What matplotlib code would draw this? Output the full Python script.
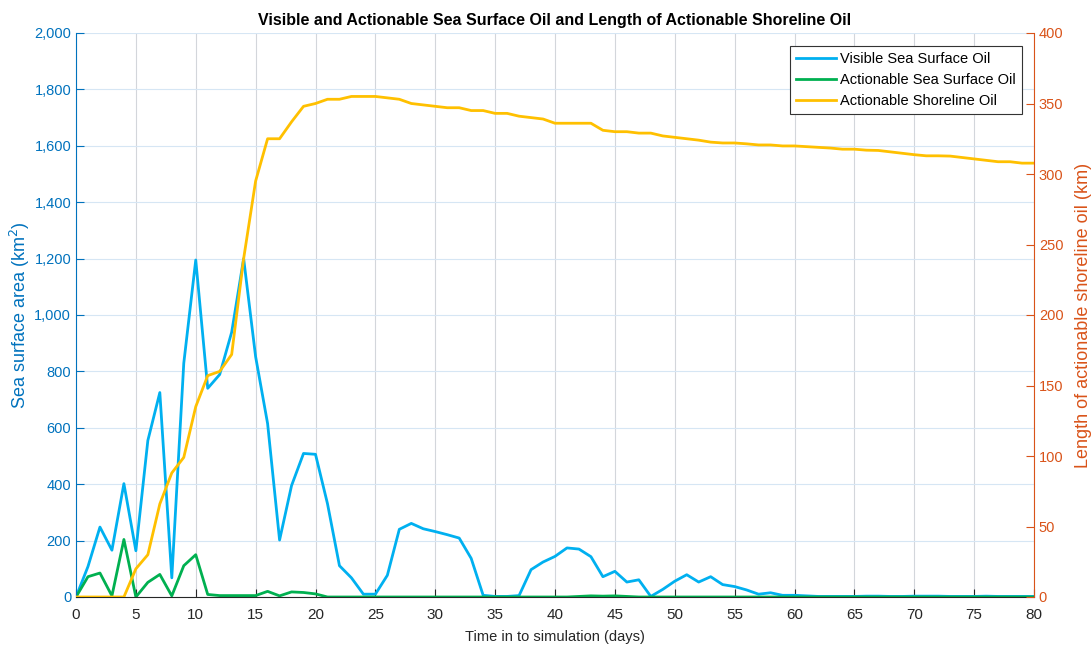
import matplotlib.pyplot as plt
from matplotlib.ticker import FuncFormatter, MultipleLocator

# Data (one value per day, day 0..80)
days = list(range(81))
visible_sea = [0, 108, 248, 166, 402, 164, 555, 725, 68, 829,
               1195, 740, 789, 939, 1200, 852, 615, 202, 395, 509,
               506, 331, 111, 68, 10, 10, 77, 240, 261, 242,
               232, 221, 209, 137, 6, 2, 2, 5, 97, 124,
               144, 174, 170, 143, 72, 91, 53, 61, 2, 27,
               56, 79, 53, 72, 44, 37, 25, 10, 15, 6,
               6, 4, 2, 2, 2, 2, 3, 3, 2, 2,
               3, 3, 3, 2, 2, 2, 3, 2, 2, 2, 2]
actionable_sea = [0, 72, 85, 4, 204, 0, 52, 80, 4, 111,
                  150, 9, 5, 5, 5, 5, 20, 4, 18, 16,
                  11, 0, 0, 0, 0, 0, 0, 0, 0, 0,
                  0, 0, 0, 0, 0, 0, 0, 0, 0, 0,
                  0, 0, 2, 4, 3, 4, 2, 0, 0, 0,
                  0, 0, 0, 0, 0, 0, 0, 0, 0, 0,
                  0, 0, 0, 0, 0, 0, 0, 0, 0, 0,
                  0, 0, 0, 0, 0, 0, 0, 0, 0, 0, 0]
shoreline_km = [0, 0, 0, 0, 0, 20, 30, 66, 88, 99,
                135, 157, 160, 172, 240, 295, 325, 325, 337, 348,
                350, 353, 353, 355, 355, 355, 354, 353, 350, 349,
                348, 347, 347, 345, 345, 343, 343, 341, 340, 339,
                336, 336, 336, 336, 331, 330, 330, 329, 329, 327,
                326, 325, 324, 322.6, 322, 322, 321.4, 320.6, 320.6, 319.9,
                319.9, 319.4, 318.9, 318.4, 317.6, 317.6, 316.9, 316.7, 315.7, 314.7,
                313.7, 312.9, 312.9, 312.7, 311.7, 310.7, 309.7, 308.7, 308.7, 307.7, 307.7]

plt.rcParams['font.family'] = ['Liberation Sans', 'DejaVu Sans']
left_col = '#0072BD'
right_col = '#D95319'
dark = '#262626'

fig = plt.figure(figsize=(10.92, 6.46), dpi=100)
ax = fig.add_axes([76/1092, 1 - 597/646, (1034 - 76)/1092, (597 - 33)/646])
ax2 = ax.twinx()

l1, = ax.plot(days, visible_sea, color='#00B0F0', lw=2, label='Visible Sea Surface Oil')
l2, = ax.plot(days, actionable_sea, color='#00B050', lw=2, label='Actionable Sea Surface Oil')
l3, = ax2.plot(days, shoreline_km, color='#FFC000', lw=2, label='Actionable Shoreline Oil')

ax.set_xlim(0, 80)
ax.set_ylim(0, 2000)
ax2.set_ylim(0, 400)
ax.xaxis.set_major_locator(MultipleLocator(5))
ax.yaxis.set_major_locator(MultipleLocator(200))
ax2.yaxis.set_major_locator(MultipleLocator(50))
ax.yaxis.set_major_formatter(FuncFormatter(lambda v, p: f'{v:,.0f}'))

# grid: grey verticals, light blue horizontals (MATLAB look)
ax.set_axisbelow(True)
ax.xaxis.grid(True, color='#d3d6db', lw=0.8)
ax.yaxis.grid(True, color='#d6e6f4', lw=0.8)

for a in (ax, ax2):
    a.spines['top'].set_visible(False)
ax2.spines['left'].set_visible(False)
ax2.spines['bottom'].set_visible(False)
ax.spines['right'].set_visible(False)
ax.spines['left'].set_color(left_col)
ax2.spines['right'].set_color(right_col)
ax.spines['bottom'].set_color(dark)

ax.tick_params(axis='x', direction='in', length=6, colors=dark, labelsize=11, pad=8)
ax.tick_params(axis='y', direction='in', length=6, colors=left_col, labelsize=10.5)
ax2.tick_params(axis='y', direction='in', length=6, colors=right_col, labelsize=10.5)

ax.set_xlabel('Time in to simulation (days)', fontsize=10.5, color=dark, labelpad=6)
ax.set_ylabel('Sea surface area (km$^2$)', fontsize=13, color=left_col)
ax2.set_ylabel('Length of actionable shoreline oil (km)', fontsize=13, color=right_col)
ax.yaxis.set_label_coords(-0.046, 0.5)
ax2.yaxis.set_label_coords(1.0425, 0.5)
ax.set_title('Visible and Actionable Sea Surface Oil and Length of Actionable Shoreline Oil',
             fontsize=11.5, fontweight='bold', color='black', pad=6)

leg = ax2.legend(handles=[l1, l2, l3], loc='upper right', bbox_to_anchor=(0.9875, 0.977),
                 fontsize=10.5, fancybox=False, framealpha=1, edgecolor='#333333',
                 borderpad=0.4, labelspacing=0.5, handlelength=2.75, handletextpad=0.3,
                 borderaxespad=0)
leg.get_frame().set_linewidth(0.8)

fig.savefig('out.png', dpi=100)
